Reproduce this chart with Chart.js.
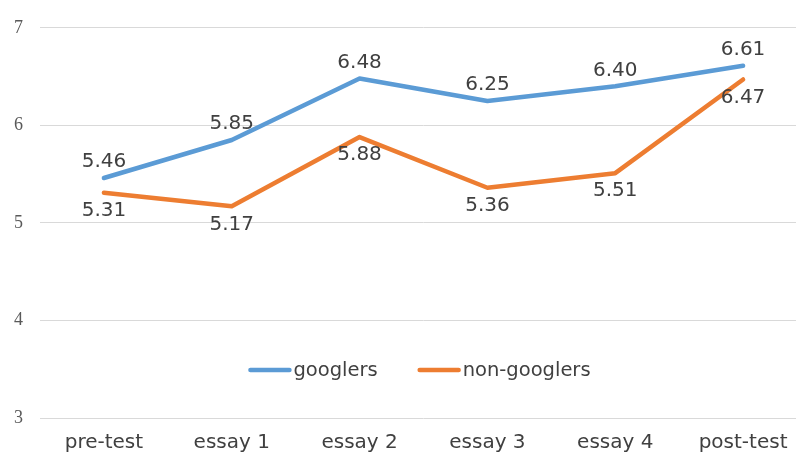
<!DOCTYPE html>
<html>
<head>
<meta charset="utf-8">
<script src="https://cdn.jsdelivr.net/npm/chart.js@4/dist/chart.umd.min.js"></script>
<style>
  html, body { margin: 0; padding: 0; background: #ffffff; overflow: hidden; }
  #wrap { position: relative; width: 810px; height: 455px; }
</style>
</head>
<body>
<div id="wrap"><canvas id="c"></canvas></div>
<script>
// Scores per stage for the two groups
const categories = ['pre-test', 'essay 1', 'essay 2', 'essay 3', 'essay 4', 'post-test'];
const googlers = [5.46, 5.85, 6.48, 6.25, 6.40, 6.61];
const nonGooglers = [5.31, 5.17, 5.88, 5.36, 5.51, 6.47];
const seriesNames = ['googlers', 'non-googlers'];
const yTicks = [3, 4, 5, 6, 7];

const BLUE = '#5b9bd5';
const ORANGE = '#ed7d31';
const TEXT = '#404040';
const SANS = '"DejaVu Sans", Verdana, sans-serif';

// Value labels: above the line for the first series, below for the second
const valueLabels = {
  id: 'valueLabels',
  afterDatasetsDraw(chart) {
    const ctx = chart.ctx;
    ctx.save();
    ctx.font = '20px ' + SANS;
    ctx.fillStyle = TEXT;
    ctx.textAlign = 'center';
    ctx.textBaseline = 'middle';
    chart.data.datasets.forEach((ds, i) => {
      const meta = chart.getDatasetMeta(i);
      meta.data.forEach((pt, j) => {
        const dy = i === 0 ? -16 : 18;
        ctx.fillText(ds.data[j].toFixed(2), pt.x, pt.y + dy);
      });
    });
    ctx.restore();
  }
};

// Legend drawn inside the plot area, centred horizontally
const innerLegend = {
  id: 'innerLegend',
  afterDraw(chart) {
    const ctx = chart.ctx;
    const area = chart.chartArea;
    const swatch = 43, gapText = 2, gapItem = 40;
    ctx.save();
    ctx.font = '19.5px ' + SANS;
    const items = chart.data.datasets.map(ds => ({
      label: ds.label, color: ds.borderColor, w: ctx.measureText(ds.label).width
    }));
    let total = 0;
    items.forEach((it, k) => { total += swatch + gapText + it.w + (k ? gapItem : 0); });
    let x = (area.left + area.right) / 2 - total / 2 - 4;
    const y = area.bottom - 48;
    items.forEach(it => {
      ctx.strokeStyle = it.color;
      ctx.lineWidth = 4.5;
      ctx.lineCap = 'round';
      ctx.beginPath();
      ctx.moveTo(x + 2, y);
      ctx.lineTo(x + swatch - 2, y);
      ctx.stroke();
      ctx.fillStyle = TEXT;
      ctx.textAlign = 'left';
      ctx.textBaseline = 'middle';
      ctx.fillText(it.label, x + swatch + gapText, y + 1);
      x += swatch + gapText + it.w + gapItem;
    });
    ctx.restore();
  }
};

new Chart(document.getElementById('c'), {
  type: 'line',
  data: {
    labels: categories,
    datasets: [
      { label: seriesNames[0], data: googlers, borderColor: BLUE, backgroundColor: BLUE },
      { label: seriesNames[1], data: nonGooglers, borderColor: ORANGE, backgroundColor: ORANGE }
    ]
  },
  options: {
    responsive: true,
    maintainAspectRatio: false,
    animation: false,
    layout: { padding: { top: 23, right: 3, bottom: 0, left: 0 } },
    elements: {
      line: { borderWidth: 4.5, tension: 0, borderCapStyle: 'round', borderJoinStyle: 'round' },
      point: { radius: 0, hoverRadius: 0 }
    },
    plugins: {
      legend: { display: false },
      tooltip: { enabled: false }
    },
    scales: {
      x: {
        offset: true,
        grid: { display: false },
        border: { display: false },
        ticks: {
          color: TEXT,
          font: { family: SANS, size: 20 },
          padding: 5,
          maxRotation: 0,
          autoSkip: false
        },
        afterFit(scale) { scale.height = 37; }
      },
      y: {
        min: yTicks[0],
        max: yTicks[yTicks.length - 1],
        afterBuildTicks(scale) { scale.ticks = yTicks.map(v => ({ value: v })); },
        grid: { color: '#d9d9d9', lineWidth: 1, drawTicks: false },
        border: { display: false },
        ticks: {
          color: '#595959',
          font: { family: '"Liberation Serif", "Times New Roman", serif', size: 18 },
          padding: 17
        },
        afterFit(scale) { scale.width = 40; }
      }
    }
  },
  plugins: [valueLabels, innerLegend]
});
</script>
</body>
</html>
